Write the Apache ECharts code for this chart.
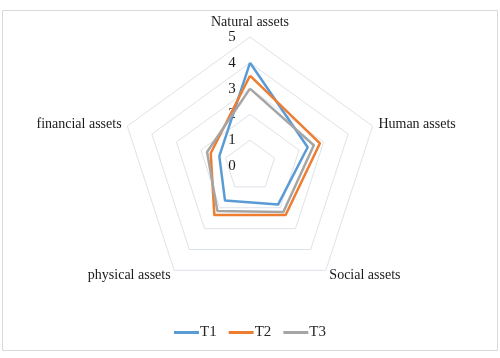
<!DOCTYPE html>
<html>
<head>
<meta charset="utf-8">
<script src="https://cdn.jsdelivr.net/npm/echarts@6/dist/echarts.min.js"></script>
<style>
html,body{margin:0;padding:0;background:#fff;}
#chart{width:500px;height:358px;}
</style>
</head>
<body>
<div id="chart"></div>
<script>
const indicators = ['Natural assets', 'Human assets', 'Social assets', 'physical assets', 'financial assets'];
const seriesNames = ['T1', 'T2', 'T3'];
const T1 = [4.0, 2.35, 1.85, 1.65, 1.25];
const T2 = [3.5, 2.85, 2.35, 2.35, 1.6];
const T3 = [3.0, 2.6, 2.2, 2.15, 1.75];
const axisMax = 5;
const colors = ['#5B9BD5', '#ED7D31', '#A5A5A5'];

// ECharts radar goes counter-clockwise; reorder so categories run clockwise like the reference
const order = [0, 4, 3, 2, 1];

const font = 'Liberation Serif, Times New Roman, serif';
const chart = echarts.init(document.getElementById('chart'));
const values = [T1, T2, T3];

chart.setOption({
  animation: false,
  backgroundColor: '#fff',
  graphic: [{
    type: 'rect',
    shape: {x: 2.5, y: 10.5, width: 495, height: 340},
    style: {fill: 'none', stroke: '#d9d9d9', lineWidth: 1},
    silent: true
  }],
  legend: {
    bottom: 13,
    left: 'center',
    itemWidth: 25,
    itemHeight: 3,
    itemGap: 12,
    icon: 'rect',
    textStyle: {fontFamily: font, fontSize: 15, color: '#262626', padding: [0, 0, 0, -4]},
    data: seriesNames
  },
  radar: {
    center: [250, 166],
    radius: 129,
    startAngle: 90,
    shape: 'polygon',
    splitNumber: 5,
    nameGap: 6,
    axisName: {fontFamily: font, fontSize: 14, color: '#1a1a1a'},
    axisLine: {show: false},
    axisTick: {show: false},
    splitArea: {show: false},
    splitLine: {lineStyle: {color: '#dde3ea', width: 1}},
    axisLabel: {show: false},
    indicator: order.map((k, i) => {
      const o = {name: indicators[k], min: 0, max: axisMax};
      if (i === 0) {
        o.axisLabel = {show: true, fontFamily: font, fontSize: 15, color: '#1a1a1a', margin: 18, align: 'center'};
      }
      return o;
    })
  },
  series: [{
    type: 'radar',
    symbol: 'none',
    data: seriesNames.map((n, i) => ({
      name: n,
      value: order.map(k => values[i][k]),
      lineStyle: {color: colors[i], width: 2.5},
      itemStyle: {color: colors[i]}
    }))
  }]
});
</script>
</body>
</html>
